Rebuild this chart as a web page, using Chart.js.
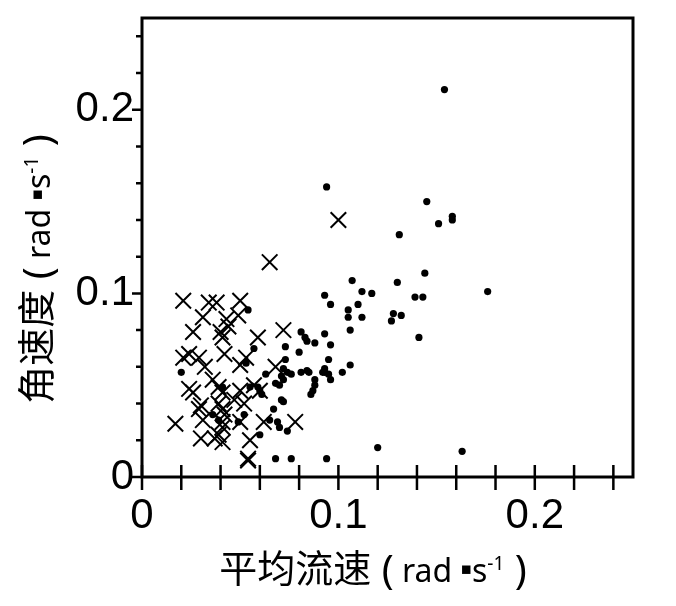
<!DOCTYPE html>
<html>
<head>
<meta charset="utf-8">
<title>角速度 vs 平均流速</title>
<script src="https://cdn.jsdelivr.net/npm/chart.js@4.4.1/dist/chart.umd.min.js"></script>
<style>
  body { margin: 0; background: #fff; }
  #wrap { width: 676px; height: 606px; }
</style>
</head>
<body>
<div id="wrap"><canvas id="myChart" width="676" height="606"></canvas></div>
<script>
// filled circles
const circleX = [0.154, 0.094, 0.145, 0.151, 0.158, 0.158, 0.131, 0.107, 0.130, 0.144,
                 0.176, 0.093, 0.096, 0.112, 0.117, 0.110, 0.105, 0.105, 0.112, 0.128,
                 0.132, 0.127, 0.139, 0.143, 0.141, 0.106, 0.081, 0.083, 0.084, 0.093,
                 0.088, 0.096, 0.095, 0.106, 0.102, 0.080, 0.084, 0.085, 0.093, 0.093,
                 0.092, 0.095, 0.096, 0.088, 0.088, 0.087, 0.086, 0.120, 0.163, 0.094,
                 0.054, 0.073, 0.057, 0.073, 0.020, 0.053, 0.072, 0.074, 0.076, 0.081,
                 0.063, 0.068, 0.070, 0.071, 0.072, 0.041, 0.055, 0.059, 0.060, 0.061,
                 0.071, 0.072, 0.067, 0.036, 0.052, 0.049, 0.065, 0.069, 0.070, 0.074,
                 0.060, 0.039, 0.068, 0.076];
const circleY = [0.211, 0.158, 0.150, 0.138, 0.142, 0.140, 0.132, 0.107, 0.106, 0.111,
                 0.101, 0.099, 0.094, 0.101, 0.100, 0.094, 0.091, 0.087, 0.087, 0.089,
                 0.088, 0.085, 0.098, 0.098, 0.076, 0.080, 0.079, 0.076, 0.074, 0.078,
                 0.073, 0.072, 0.064, 0.061, 0.057, 0.068, 0.058, 0.057, 0.059, 0.057,
                 0.057, 0.056, 0.053, 0.053, 0.050, 0.047, 0.045, 0.016, 0.014, 0.010,
                 0.091, 0.071, 0.070, 0.064, 0.057, 0.062, 0.059, 0.057, 0.056, 0.057,
                 0.056, 0.051, 0.050, 0.055, 0.053, 0.049, 0.049, 0.049, 0.047, 0.045,
                 0.042, 0.041, 0.037, 0.034, 0.034, 0.030, 0.031, 0.030, 0.027, 0.025,
                 0.023, 0.031, 0.010, 0.010];

// crosses
const crossX = [0.065, 0.100, 0.021, 0.034, 0.038, 0.050, 0.031, 0.043, 0.049, 0.026,
                0.040, 0.041, 0.044, 0.059, 0.072, 0.021, 0.024, 0.029, 0.042, 0.032,
                0.053, 0.050, 0.068, 0.024, 0.026, 0.036, 0.039, 0.041, 0.050, 0.047,
                0.057, 0.060, 0.030, 0.029, 0.039, 0.041, 0.042, 0.052, 0.017, 0.031,
                0.041, 0.041, 0.050, 0.062, 0.078, 0.030, 0.037, 0.041, 0.039, 0.055,
                0.054, 0.054];
const crossY = [0.117, 0.140, 0.096, 0.095, 0.095, 0.096, 0.087, 0.086, 0.088, 0.079,
                0.079, 0.076, 0.082, 0.076, 0.080, 0.065, 0.067, 0.065, 0.067, 0.060,
                0.065, 0.061, 0.060, 0.048, 0.046, 0.053, 0.049, 0.046, 0.047, 0.042,
                0.050, 0.047, 0.039, 0.037, 0.040, 0.037, 0.034, 0.040, 0.029, 0.031,
                0.030, 0.027, 0.030, 0.030, 0.030, 0.021, 0.021, 0.019, 0.023, 0.020,
                0.010, 0.009];

// axes
const tickValues = [0, 0.02, 0.04, 0.06, 0.08, 0.1, 0.12, 0.14, 0.16, 0.18, 0.2, 0.22, 0.24];
const majorValues = [0, 0.1, 0.2];
const majorLabels = ['0', '0.1', '0.2'];
const xTitle = '平均流速';
const yTitle = '角速度';

function toPoints(xs, ys) {
    return xs.map((x, i) => ({ x: x, y: ys[i] }));
}

function tickLabel(value) {
    for (let i = 0; i < majorValues.length; i++) {
        if (Math.abs(value - majorValues[i]) < 1e-6) return majorLabels[i];
    }
    return '';
}

// draws "平均流速( rad ▪s-1)" style title centred at 0,0 (baseline at y=0)
function drawUnitTitle(ctx, cjk) {
    const parts = [
        { t: cjk, f: '38px "Noto Sans CJK SC"', dy: 0 },
        { t: ' (', f: '40px "Noto Sans"', dy: 2 },
        { t: ' rad ', f: '32px "Noto Sans"', dy: 0 },
        { t: '▪', f: '17px "DejaVu Sans"', dy: -8 },
        { t: 's', f: '32px "Noto Sans"', dy: 0 },
        { t: '-1', f: '19px "Noto Sans"', dy: -12 },
        { t: ' )', f: '40px "Noto Sans"', dy: 2 }
    ];
    let total = 0;
    parts.forEach(p => { ctx.font = p.f; p.w = ctx.measureText(p.t).width; total += p.w; });
    let x = -total / 2;
    ctx.textAlign = 'left';
    ctx.textBaseline = 'alphabetic';
    ctx.fillStyle = '#000';
    parts.forEach(p => {
        ctx.font = p.f;
        ctx.fillText(p.t, x, p.dy);
        x += p.w;
    });
}

const framePlugin = {
    id: 'framePlugin',
    beforeDraw(chart) {
        const ctx = chart.ctx;
        ctx.save();
        ctx.fillStyle = '#fff';
        ctx.fillRect(0, 0, chart.width, chart.height);
        ctx.restore();
    },
    afterDraw(chart) {
        const ctx = chart.ctx;
        const a = chart.chartArea;
        const xs = chart.scales.x;
        const ys = chart.scales.y;
        ctx.save();
        ctx.strokeStyle = '#000';
        ctx.lineWidth = 3;
        ctx.strokeRect(a.left, a.top, a.right - a.left, a.bottom - a.top);

        // x ticks cross the axis
        ctx.lineWidth = 2.5;
        ctx.beginPath();
        tickValues.forEach(v => {
            const px = xs.getPixelForValue(v);
            ctx.moveTo(px, a.bottom - 12);
            ctx.lineTo(px, a.bottom + 13);
        });
        // y ticks point outward
        tickValues.forEach(v => {
            const py = ys.getPixelForValue(v);
            const len = tickLabel(v) !== '' ? 10 : 6;
            ctx.moveTo(a.left - len, py);
            ctx.lineTo(a.left, py);
        });
        ctx.stroke();

        // axis titles
        ctx.save();
        ctx.translate(373, 582);
        drawUnitTitle(ctx, xTitle);
        ctx.restore();

        ctx.save();
        ctx.translate(50, 269);
        ctx.rotate(-Math.PI / 2);
        drawUnitTitle(ctx, yTitle);
        ctx.restore();

        ctx.restore();
    }
};

const ctx = document.getElementById('myChart');

new Chart(ctx, {
    type: 'scatter',
    data: {
        datasets: [
            {
                label: 'dots',
                data: toPoints(circleX, circleY),
                pointStyle: 'circle',
                pointRadius: 3.6,
                backgroundColor: '#000',
                borderColor: '#000',
                borderWidth: 0
            },
            {
                label: 'crosses',
                data: toPoints(crossX, crossY),
                pointStyle: 'crossRot',
                pointRadius: 11,
                borderColor: '#000',
                borderWidth: 2
            }
        ]
    },
    options: {
        responsive: false,
        animation: false,
        events: [],
        layout: {
            padding: { left: 0, right: 43, top: 18, bottom: 0 }
        },
        plugins: {
            legend: { display: false },
            tooltip: { enabled: false }
        },
        scales: {
            x: {
                type: 'linear',
                min: 0,
                max: 0.25,
                grid: { display: false, drawTicks: false },
                border: { display: false },
                afterBuildTicks: (scale) => { scale.ticks = tickValues.map(v => ({ value: v })); },
                afterFit: (scale) => {
                    scale.height = 129;
                    scale.paddingLeft = 0;
                    scale.paddingRight = 0;
                },
                ticks: {
                    autoSkip: false,
                    maxRotation: 0,
                    padding: 14,
                    color: '#000',
                    font: { family: '"Liberation Sans", Arial, sans-serif', size: 42 },
                    callback: (value) => tickLabel(value)
                }
            },
            y: {
                type: 'linear',
                min: 0,
                max: 0.25,
                grid: { display: false, drawTicks: false },
                border: { display: false },
                afterBuildTicks: (scale) => { scale.ticks = tickValues.map(v => ({ value: v })); },
                afterFit: (scale) => {
                    scale.width = 142;
                    scale.paddingTop = 0;
                    scale.paddingBottom = 0;
                },
                ticks: {
                    autoSkip: false,
                    padding: 8,
                    color: '#000',
                    font: { family: '"Liberation Sans", Arial, sans-serif', size: 42 },
                    callback: (value) => tickLabel(value)
                }
            }
        }
    },
    plugins: [framePlugin]
});
</script>
</body>
</html>
